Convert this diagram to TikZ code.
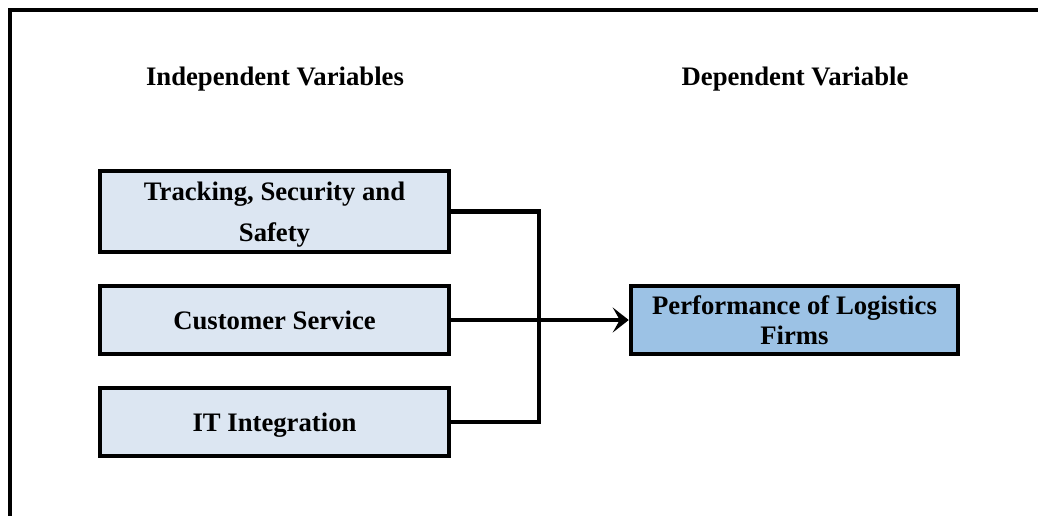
\documentclass[tikz,border=0pt]{standalone}
\usepackage{fontspec}
\setmainfont{Liberation Serif}
\usetikzlibrary{arrows.meta}
\definecolor{lightbox}{HTML}{DCE6F2}
\definecolor{darkbox}{HTML}{9CC2E5}
\begin{document}
\begin{tikzpicture}[x=1pt,y=-1pt,
  txt/.style={font=\fontsize{26.7}{32}\selectfont\bfseries, inner sep=0pt},
  ivbox/.style={draw=black, line width=4.5pt, fill=lightbox, rectangle, inner sep=0pt,
     minimum width=349pt, minimum height=68pt, align=center, text depth=0pt,
     font=\fontsize{26.7}{41}\selectfont\bfseries},
  dvbox/.style={draw=black, line width=4.5pt, fill=darkbox, rectangle, inner sep=0pt,
     minimum width=327pt, minimum height=68pt, align=center,
     font=\fontsize{26.7}{30}\selectfont\bfseries},
  conn/.style={line width=4.5pt, draw=black},
  frame/.style={line width=4.5pt, draw=black, line join=miter}]
\useasboundingbox (0,0) rectangle (1038,515);
\draw[frame] (10,520) -- (10,10) -- (1045,10);
\node[txt] (ivtitle) at (275,79) {Independent Variables};
\node[txt] (dvtitle) at (795,79) {Dependent Variable};
\node[ivbox, minimum height=81pt] (track) at (274.5,211.5) {Tracking, Security and\\Safety};
\node[ivbox] (cust) at (274.5,320) {Customer Service};
\node[ivbox] (it) at (274.5,422) {IT Integration};
\node[dvbox] (perf) at (794.5,320) {Performance of Logistics\\Firms};
\coordinate (j) at (539,320);
\draw[conn, line join=miter] (track.east) -| (j) |- (it.east);
\draw[conn, -{Stealth[length=16pt,width=25pt,inset=7pt]}] (cust.east) -- (perf.west);
\end{tikzpicture}
\end{document}
